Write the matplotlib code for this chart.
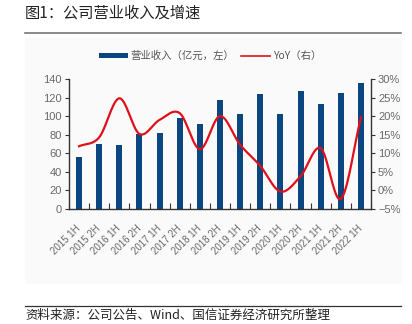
import numpy as np
import matplotlib
matplotlib.use("Agg")
import matplotlib.pyplot as plt
from matplotlib.patches import Rectangle
from matplotlib.lines import Line2D

plt.rcParams['font.family'] = ['Noto Sans CJK SC', 'DejaVu Sans']

categories = ["2015 1H", "2015 2H", "2016 1H", "2016 2H", "2017 1H", "2017 2H",
              "2018 1H", "2018 2H", "2019 1H", "2019 2H", "2020 1H", "2020 2H",
              "2021 1H", "2021 2H", "2022 1H"]
revenue = [55.5, 70.5, 69, 81, 82.3, 97.7, 91.3, 117.4, 102.8, 123.5, 102, 127.5, 113.5, 124.6, 135.3]
yoy = [11.9, 14.3, 24.8, 15.2, 19.0, 20.8, 11.1, 20.0, 12.3, 6.6, -0.3, 3.8, 11.4, -2.3, 19.7]
left_ticks = [0, 20, 40, 60, 80, 100, 120, 140]
right_ticks = [-5, 0, 5, 10, 15, 20, 25, 30]

W, H = 412, 324
fig = plt.figure(figsize=(W / 100, H / 100), dpi=100)
fig.patch.set_facecolor('white')

# faint panel
fig.patches.append(Rectangle((25 / W, 1 - 284 / H), 377 / W, 246 / H, transform=fig.transFigure,
                             facecolor='#fafafa', edgecolor='none', zorder=-10))

ax = fig.add_axes([69 / W, 1 - 209 / H, 302 / W, 130 / H])
ax.set_facecolor('white')
ax.patch.set_alpha(0)

bar_color = '#0b4680'
x = np.arange(len(categories))
ax.bar(x, revenue, width=0.3, color=bar_color, zorder=2)
ax.set_xlim(-0.5, len(categories) - 0.5)
ax.set_ylim(0, 140)
ax.set_yticks(left_ticks)
ax.set_yticklabels([str(v) for v in left_ticks])

ax.set_xticks(x)
ax.set_xticklabels(categories, rotation=45, ha='right', va='center', rotation_mode='anchor',
                   fontsize=7, color='#6a6a6a', family=['Liberation Sans', 'DejaVu Sans'])
ax.tick_params(axis='x', which='major', length=0, pad=13)
ax.set_xticks(np.arange(-0.5, len(categories), 1.0), minor=True)
ax.tick_params(axis='x', which='minor', direction='in', length=4, width=0.8, color='#333333')
ax.tick_params(axis='y', direction='out', length=3, width=0.8, color='#333333',
               labelsize=8, labelcolor='#6a6a6a', pad=2)
for lab in ax.get_yticklabels():
    lab.set_family(['Liberation Sans', 'DejaVu Sans'])

for s in ['top', 'right']:
    ax.spines[s].set_visible(False)
for s in ['left', 'bottom']:
    ax.spines[s].set_color('#333333')
    ax.spines[s].set_linewidth(1.0)

ax2 = ax.twinx()
ax2.set_ylim(-5, 30)
ax2.set_yticks(right_ticks)
ax2.set_yticklabels([f"{v}%" if v >= 0 else f"\u2212{abs(v)}%" for v in right_ticks])
ax2.tick_params(axis='y', direction='out', length=3, width=0.8, color='#333333',
                labelsize=8, labelcolor='#6a6a6a', pad=2)
for lab in ax2.get_yticklabels():
    lab.set_family(['Liberation Sans', 'DejaVu Sans'])
for s in ['top', 'left', 'bottom']:
    ax2.spines[s].set_visible(False)
ax2.spines['right'].set_color('#333333')
ax2.spines['right'].set_linewidth(1.0)

# smooth curve through yoy points (Catmull-Rom)
xs = x.astype(float)
ys = np.array(yoy, dtype=float)
P = np.column_stack([xs, ys])
P = np.vstack([2 * P[0] - P[1], P, 2 * P[-1] - P[-2]])
cx, cy = [], []
for i in range(1, len(P) - 2):
    p0, p1, p2, p3 = P[i - 1], P[i], P[i + 1], P[i + 2]
    t = np.linspace(0, 1, 30)[:, None]
    pts = 0.5 * ((2 * p1) + (-p0 + p2) * t + (2 * p0 - 5 * p1 + 4 * p2 - p3) * t ** 2 +
                 (-p0 + 3 * p1 - 3 * p2 + p3) * t ** 3)
    cx.extend(pts[:, 0]); cy.extend(pts[:, 1])
ax2.plot(cx, cy, color='#e0101a', linewidth=1.6, zorder=3)

# legend
handles = [Rectangle((0, 0), 1, 1, facecolor=bar_color, edgecolor='none'),
           Line2D([], [], color='#e0101a', linewidth=1.2)]
fig.legend(handles, ['营业收入（亿元，左）', 'YoY（右）'], loc='center', bbox_to_anchor=(210 / W, 1 - 56 / H),
           ncol=2, frameon=False, fontsize=7.5, handlelength=2.8, handleheight=0.35,
           columnspacing=0.6, handletextpad=0.3, labelcolor='#555555')

# title & source
fig.text(25 / W, 1 - 13 / H, '图1：公司营业收入及增速', fontsize=11, color='#222222', va='center', ha='left')
fig.add_artist(Line2D([25 / W, 401 / W], [1 - 33 / H, 1 - 33 / H], color='#777777', linewidth=1.2))
fig.add_artist(Line2D([25 / W, 401 / W], [1 - 306 / H, 1 - 306 / H], color='#333333', linewidth=0.9))
fig.text(25 / W, 1 - 315 / H, '资料来源：公司公告、Wind、国信证券经济研究所整理', fontsize=9, color='#222222',
         va='center', ha='left')

fig.savefig('out.png', dpi=100)
